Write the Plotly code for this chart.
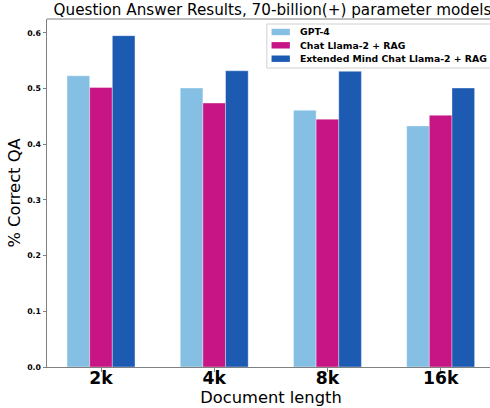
import plotly.graph_objects as go

categories = ["2k", "4k", "8k", "16k"]
gpt4 = [0.523, 0.501, 0.461, 0.433]
llama_rag = [0.502, 0.474, 0.445, 0.452]
ext_mind = [0.595, 0.532, 0.531, 0.501]
series_names = ["GPT-4", "Chat Llama-2 + RAG", "Extended Mind Chat Llama-2 + RAG"]
colors = ["#86BFE4", "#C71585", "#1D5BB2"]
y_ticks = [0.0, 0.1, 0.2, 0.3, 0.4, 0.5, 0.6]

# figure is slightly wider than the 490px window; the right spine falls off-screen as in the reference
W, H = 495, 408
L, T, B = 47.3, 19, 41
PW, PH = W - L, H - T - B


def px_x(p):
    return (p - L) / PW


def px_y(p):
    return (H - B - p) / PH


xpos = list(range(len(categories)))
fig = go.Figure()
for name, vals, col in zip(series_names, [gpt4, llama_rag, ext_mind], colors):
    fig.add_trace(go.Bar(x=xpos, y=vals, name=name, showlegend=False,
                         marker=dict(color=col, line=dict(color="rgba(255,255,255,0.6)", width=0.6))))

# top spine
shapes = [dict(type="line", xref="paper", yref="paper", x0=0, x1=1, y0=1, y1=1,
               line=dict(color="#808080", width=1), layer="above")]
# legend drawn as box + swatches + labels
shapes.append(dict(type="rect", xref="paper", yref="paper",
                   x0=px_x(267), x1=px_x(492), y0=px_y(68), y1=px_y(24),
                   line=dict(color="#d0d0d0", width=1), fillcolor="rgba(255,255,255,0.8)", layer="above"))
annotations = []
row_y = [32, 45.3, 58.7]
for name, col, ry in zip(series_names, colors, row_y):
    shapes.append(dict(type="rect", xref="paper", yref="paper",
                       x0=px_x(271.7), x1=px_x(290), y0=px_y(ry + 3.2), y1=px_y(ry - 3.2),
                       line=dict(width=0), fillcolor=col, layer="above"))
    annotations.append(dict(text=f"<b>{name}</b>", xref="paper", yref="paper",
                            x=px_x(298), y=px_y(ry), xanchor="left", yanchor="middle",
                            showarrow=False, font=dict(family="DejaVu Sans", size=9.3, color="black")))

fig.update_layout(
    width=W, height=H,
    margin=dict(l=L, r=0, t=T, b=B, pad=0),
    barmode="group", bargap=0.4, bargroupgap=0,
    plot_bgcolor="white", paper_bgcolor="white",
    font=dict(family="DejaVu Sans", color="black"),
    title=dict(text="Question Answer Results, 70-billion(+) parameter models",
               font=dict(size=15.2, family="DejaVu Sans", color="black"),
               x=272.5 / W, xref="container", xanchor="center",
               y=1 - 10 / H, yref="container", yanchor="middle"),
    showlegend=False,
    shapes=shapes,
    annotations=annotations,
    xaxis=dict(range=[-0.477, 3.48], tickvals=xpos, ticktext=categories,
               showline=True, linecolor="#808080", linewidth=1, mirror=False,
               ticks="outside", ticklen=3.5, tickcolor="#808080", ticklabelstandoff=-8,
               tickfont=dict(size=17.2, family="DejaVu Sans", color="black", weight="bold"),
               showgrid=False, zeroline=False,
               title=dict(text="Document length", font=dict(size=16.3, family="DejaVu Sans", color="black"), standoff=2)),
    yaxis=dict(range=[0, 0.625], tickvals=y_ticks, ticktext=[f"{v:.1f}" for v in y_ticks],
               showline=True, linecolor="#808080", linewidth=1, mirror=False,
               ticks="outside", ticklen=3.5, tickcolor="#808080",
               tickfont=dict(size=7.8, family="DejaVu Sans", color="black", weight="bold"),
               showgrid=False, zeroline=False,
               title=dict(text="% Correct QA", font=dict(size=16.3, family="DejaVu Sans", color="black"), standoff=2)),
)
fig.write_html("out.html", config={"displayModeBar": False},
               post_script="document.body.style.margin='0';document.body.style.overflow='hidden';")
